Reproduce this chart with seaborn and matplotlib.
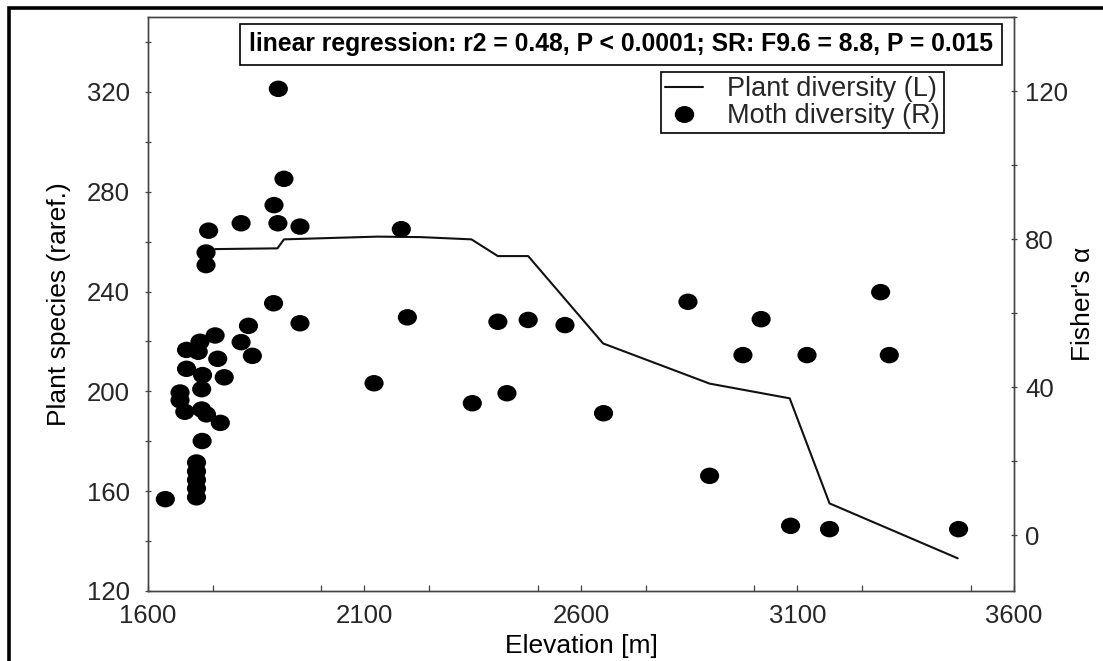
import matplotlib
matplotlib.use("Agg")
import matplotlib.pyplot as plt
from matplotlib.ticker import MultipleLocator
from matplotlib.lines import Line2D
from matplotlib.patches import Rectangle
from matplotlib.path import Path
import seaborn as sns

# Plant diversity (rarefied species) along the elevation gradient -> left axis
plant_elev = [1755, 1899, 1914, 2130, 2230, 2347, 2408, 2478, 2651, 2897, 3082, 3174, 3470]
plant_rich = [257.0, 257.3, 260.9, 262.0, 261.8, 260.9, 254.2, 254.2, 219.2, 203.1, 197.2, 155.1, 133.1]

# Moth diversity (Fisher's alpha) per site -> right axis
moth_elev = [1640, 1712, 1712, 1712, 1712, 1712, 1725, 1685, 1724, 1735,
             1767, 1674, 1674, 1724, 1689, 1726, 1776, 1689, 1716, 1761,
             1720, 1755, 1841, 1815, 1832, 1951, 1890, 1734, 1734, 1740,
             1815, 1900, 1951, 1891, 1914, 1901, 2122, 2185, 2199, 2408,
             2478, 2563, 2349, 2429, 2652, 2847, 2974, 3016, 3122, 3292,
             3312, 2897, 3084, 3174, 3472]
moth_alpha = [9.8, 10.3, 12.7, 15.0, 17.3, 19.7, 25.5, 33.4, 34.0, 32.7,
              30.4, 38.6, 36.5, 39.5, 45.0, 43.3, 42.7, 50.1, 49.6, 47.7,
              52.3, 54.0, 48.5, 52.2, 56.6, 57.3, 62.7, 73.0, 76.4, 82.3,
              84.3, 84.3, 83.4, 89.2, 96.3, 120.6, 41.1, 82.7, 58.9, 57.7,
              58.2, 56.8, 35.7, 38.4, 33.0, 63.1, 48.7, 58.4, 48.7, 65.7,
              48.7, 16.1, 2.6, 1.7, 1.7]

x_ticks = [1600, 2100, 2600, 3100, 3600]
left_ticks = [120, 160, 200, 240, 280, 320]
right_ticks = [0, 40, 80, 120]

stats_text = "linear regression: r2 = 0.48, P < 0.0001; SR: F9.6 = 8.8, P = 0.015"
legend_labels = ["Plant diversity (L)", "Moth diversity (R)"]

sns.set_theme(style="ticks")
plt.rcParams["font.family"] = ["Liberation Sans", "DejaVu Sans"]

W, H = 1103, 661
fig = plt.figure(figsize=(W / 100, H / 100), dpi=100)
fig.patch.set_facecolor("white")
ax = fig.add_axes([148 / W, 1 - 591 / H, 866 / W, 574 / H])
ax2 = ax.twinx()

ink = "#111111"
spine_col = "#444444"

# slightly flattened round dots
circ = Path.unit_circle()
dot = Path(circ.vertices * [1.0, 0.86], circ.codes)

sns.lineplot(x=plant_elev, y=plant_rich, ax=ax, color=ink, linewidth=1.5,
             estimator=None, sort=False)
sns.scatterplot(x=moth_elev, y=moth_alpha, ax=ax2, color="black", marker=dot,
                s=190, edgecolor="none", linewidth=0, zorder=3)

ax.set_xlim(1600, 3600)
ax.set_ylim(120, 350)
ax2.set_ylim(-15, 140)

ax.set_xticks(x_ticks)
ax.xaxis.set_minor_locator(MultipleLocator(250))
ax.set_yticks(left_ticks)
ax.yaxis.set_minor_locator(MultipleLocator(20))
ax2.set_yticks(right_ticks)
ax2.yaxis.set_minor_locator(MultipleLocator(20))

for a in (ax, ax2):
    for sp in a.spines.values():
        sp.set_color(spine_col)
        sp.set_linewidth(1.0)

fs_tick = 18.5
ax.tick_params(axis="x", which="both", direction="in", length=4, width=0.9,
               color=spine_col, labelsize=fs_tick, pad=9.5, top=False)
ax.tick_params(axis="y", which="both", direction="inout", length=5, width=0.9,
               color=spine_col, labelsize=fs_tick, pad=10.5)
ax2.tick_params(axis="y", which="both", direction="inout", length=5, width=0.9,
                color=spine_col, labelsize=fs_tick, pad=5.5)
ax.set_xticklabels([str(v) for v in x_ticks])

ax.set_xlabel("Elevation [m]", fontsize=19, color="black")
ax.set_ylabel("Plant species (raref.)", fontsize=19, color="black")
ax2.set_ylabel("Fisher's α", fontsize=19, color="black")
ax.xaxis.set_label_coords(0.5, (591 - 634) / 574)
ax.yaxis.set_label_coords((71 - 148) / 866, 0.5)
ax2.yaxis.set_label_coords((1071 - 148) / 866, 0.5)

handles = [Line2D([], [], color=ink, linewidth=1.5),
           Line2D([], [], marker=dot, linestyle="", color="black", markersize=13)]
leg = ax2.legend(handles, legend_labels, loc="upper left",
                 bbox_to_anchor=(661 / W, 1 - 72 / H), bbox_transform=fig.transFigure,
                 frameon=True, fancybox=False, framealpha=1, edgecolor="black",
                 fontsize=19.5, borderpad=0.15, handlelength=1.4, handletextpad=0.9,
                 labelspacing=0.05, borderaxespad=0)
leg.get_frame().set_linewidth(1.2)

fig.text(621 / W, 1 - 44.5 / H, stats_text, ha="center", va="center",
         fontsize=17.8, fontweight="bold", color="black",
         bbox=dict(boxstyle="square,pad=0.36", fc="white", ec="black", lw=1.2))

# heavy outer frame around the figure panel
fig.add_artist(Rectangle((9 / W, -0.1), 1.2, 1.1 - 8 / H, transform=fig.transFigure,
                         fill=False, edgecolor="black", linewidth=2.6, clip_on=False))

fig.savefig("out.png", dpi=100, facecolor="white")
